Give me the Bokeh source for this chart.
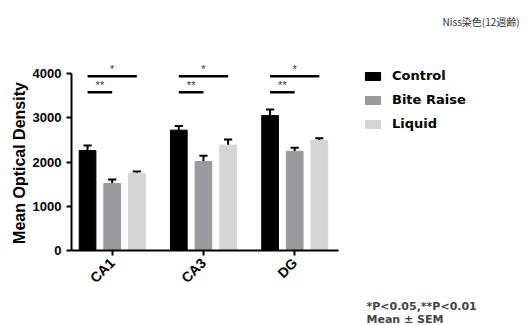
import math
from bokeh.plotting import figure
from bokeh.models import (Range1d, FixedTicker, Legend, LegendItem, Label, ColumnDataSource)
from bokeh.core.properties import value
from bokeh.embed import file_html
from bokeh.resources import INLINE

# ---- data ----
regions = ["CA1", "CA3", "DG"]
series = ["Control", "Bite Raise", "Liquid"]
control_mean = [2260, 2720, 3050]
control_sem = [113, 91, 135]
bite_mean = [1514, 2011, 2244]
bite_sem = [90, 129, 76]
liquid_mean = [1747, 2380, 2486]
liquid_sem = [38, 128, 52]
y_ticks = [0, 1000, 2000, 3000, 4000]
sig_one_star = ["*", "*", "*"]      # Control vs Liquid
sig_two_star = ["**", "**", "**"]   # Control vs Bite Raise
sig_one_y = [3939, 3939, 3939]
sig_two_y = [3577, 3577, 3577]
title_text = "Niss染色(12週齢)"
note_lines = ["*P<0.05,**P<0.01", "Mean ± SEM"]

colors = ["#000000", "#9a9a9e", "#d5d5d5"]
offsets = [-0.27, 0.0, 0.27]
bar_w = 0.183
cap_half = 0.045

FONT = "Liberation Sans"

p = figure(width=531, height=325, output_backend="svg", toolbar_location=None,
           x_range=Range1d(0.054, 5.095), y_range=Range1d(-1695, 5650),
           min_border_left=71, min_border_right=0, min_border_top=0, min_border_bottom=0)
p.outline_line_color = None
p.grid.visible = False
p.background_fill_color = "white"

centers = [i + 0.5 for i in range(len(regions))]
means = [control_mean, bite_mean, liquid_mean]
sems = [control_sem, bite_sem, liquid_sem]

renderers = []
for s, (m, e, c, off) in enumerate(zip(means, sems, colors, offsets)):
    xs = [cx + off for cx in centers]
    top = [mi + ei for mi, ei in zip(m, e)]
    src = ColumnDataSource(dict(x=xs, top=m, up=top,
                                x0=[x - cap_half for x in xs], x1=[x + cap_half for x in xs]))
    p.segment(x0="x", y0="top", x1="x", y1="up", source=src, line_color="black", line_width=2)
    p.segment(x0="x0", y0="up", x1="x1", y1="up", source=src, line_color="black", line_width=2)
    r = p.vbar(x="x", top="top", width=bar_w, bottom=0, source=src,
               fill_color=c, line_color=c)
    renderers.append(r)

# significance brackets
x_ctrl = [cx + offsets[0] for cx in centers]
x_bite = [cx + offsets[1] for cx in centers]
x_liq = [cx + offsets[2] for cx in centers]
p.segment(x0=x_ctrl, y0=sig_one_y, x1=x_liq, y1=sig_one_y, line_color="black", line_width=2.5)
p.segment(x0=x_ctrl, y0=sig_two_y, x1=x_bite, y1=sig_two_y, line_color="black", line_width=2.5)
p.text(x=[(a + b) / 2 for a, b in zip(x_ctrl, x_liq)], y=sig_one_y, text=sig_one_star,
       text_align="center", text_baseline="bottom", y_offset=-1,
       text_font=value(FONT), text_font_size="11px", text_color="#333333")
p.text(x=[(a + b) / 2 for a, b in zip(x_ctrl, x_bite)], y=sig_two_y, text=sig_two_star,
       text_align="center", text_baseline="bottom", y_offset=-1,
       text_font=value(FONT), text_font_size="11px", text_color="#333333")

# axes
p.xaxis.fixed_location = 0
p.xaxis.bounds = (0.054, 2.98)
p.xaxis.ticker = FixedTicker(ticks=centers)
p.xaxis.major_label_overrides = {c: r for c, r in zip(centers, regions)}
p.xaxis.major_label_orientation = math.pi / 4
p.yaxis.ticker = FixedTicker(ticks=y_ticks)
p.yaxis.bounds = (0, 4000)
for ax in (p.xaxis, p.yaxis):
    ax.axis_line_width = 2
    ax.axis_line_color = "black"
    ax.major_tick_line_width = 2
    ax.major_tick_out = 5
    ax.major_tick_in = 0
    ax.minor_tick_line_color = None
    ax.major_label_text_font = FONT
    ax.major_label_text_font_style = "bold"
    ax.major_label_text_font_size = "13px"
    ax.major_label_text_color = "black"
p.xaxis.major_label_text_font_size = "14px"
p.yaxis.axis_label = "Mean Optical Density"
p.yaxis.axis_label_text_font = FONT
p.yaxis.axis_label_text_font_style = "bold"
p.yaxis.axis_label_text_font_size = "16px"
p.yaxis.axis_label_text_color = "black"
p.yaxis.axis_label_standoff = 2

# legend
items = [LegendItem(label=s, renderers=[r]) for s, r in zip(series, renderers)]
legend = Legend(items=items, location=(292, 194), padding=0, margin=0,
                glyph_width=19, glyph_height=10, label_height=14, spacing=9,
                label_standoff=10, border_line_color=None, background_fill_alpha=0,
                label_text_font="DejaVu Sans", label_text_font_style="bold",
                label_text_font_size="13px", label_text_color="black")
p.add_layout(legend, "center")

# title and notes
p.add_layout(Label(x=371, y=304, x_units="screen", y_units="screen", text=title_text,
                   text_baseline="alphabetic",
                   text_font="Noto Sans CJK JP", text_font_size="10px",
                   text_color="#333344"))
p.add_layout(Label(x=295, y=19.5, x_units="screen", y_units="screen", text=note_lines[0],
                   text_baseline="alphabetic",
                   text_font="DejaVu Sans", text_font_style="bold", text_font_size="11px"))
p.add_layout(Label(x=295, y=6.5, x_units="screen", y_units="screen", text=note_lines[1],
                   text_baseline="alphabetic",
                   text_font="DejaVu Sans", text_font_style="bold", text_font_size="11px"))

open("out.html", "w").write(file_html(p, INLINE))
